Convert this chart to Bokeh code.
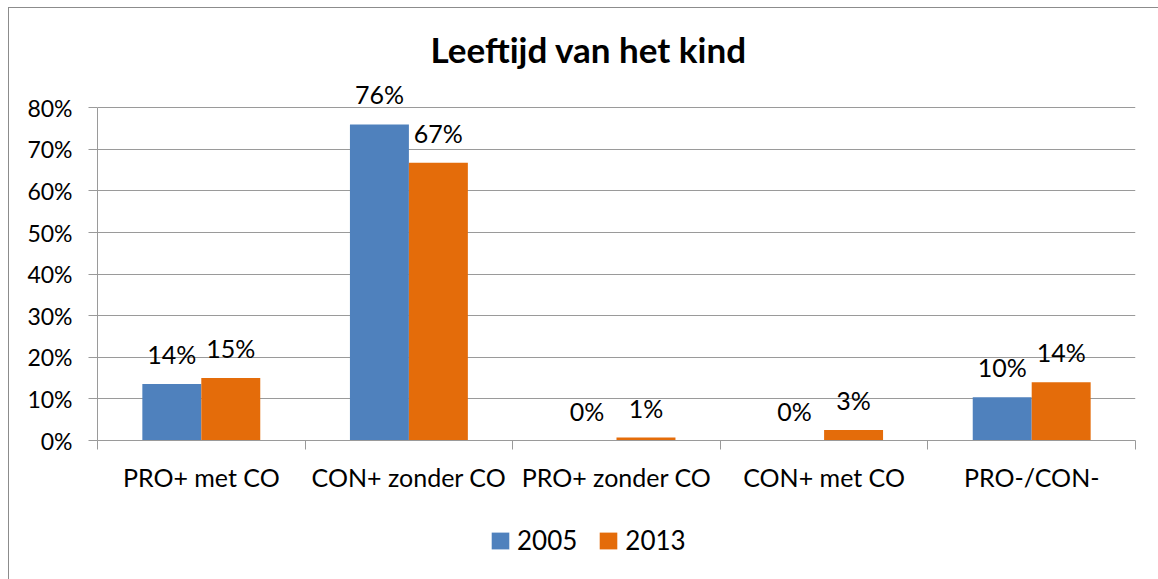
from bokeh.plotting import figure
from bokeh.layouts import column
from bokeh.models import (Range1d, LinearAxis, FixedTicker,
                          Legend, LegendItem, ColumnDataSource, LabelSet)
from bokeh.transform import dodge
from bokeh.core.properties import value
from bokeh.embed import file_html
from bokeh.resources import INLINE

chart_title = "Leeftijd van het kind"
categories = ["PRO+ met CO", "CON+ zonder CO", "PRO+ zonder CO", "CON+ met CO", "PRO-/CON-"]
series_names = ["2005", "2013"]
values_2005 = [13.6, 76.0, 0.0, 0.0, 10.4]
values_2013 = [15.0, 66.8, 0.7, 2.5, 14.0]
y_ticks = [0, 10, 20, 30, 40, 50, 60, 70, 80]
y_tick_labels = ["0%", "10%", "20%", "30%", "40%", "50%", "60%", "70%", "80%"]

colors = ["#4F81BD", "#E46C0A"]
FONT = "Lato"
GRID = "#9a9a9a"

n = len(categories)
centers = [i + 0.5 for i in range(n)]

p = figure(width=1149, height=500, x_range=Range1d(0, n),
           y_range=Range1d(0, 88), output_backend="svg", toolbar_location=None,
           x_axis_location=None, min_border_left=88, min_border_right=23,
           min_border_top=66, min_border_bottom=68)
p.outline_line_color = None
p.xgrid.grid_line_color = None
p.ygrid.grid_line_color = GRID
p.ygrid.ticker = FixedTicker(ticks=y_ticks)

# y axis
ya = p.yaxis[0]
ya.ticker = FixedTicker(ticks=y_ticks)
ya.bounds = (y_ticks[0], y_ticks[-1])
ya.major_label_overrides = {t: l for t, l in zip(y_ticks, y_tick_labels)}
ya.axis_line_color = GRID
ya.major_tick_line_color = GRID
ya.major_tick_in = 0
ya.major_tick_out = 9
ya.minor_tick_line_color = None
ya.major_label_text_font = FONT
ya.major_label_text_font_size = "23px"
ya.major_label_text_color = "black"
ya.major_label_standoff = 16

# boundary ticks axis
bax = LinearAxis(ticker=FixedTicker(ticks=list(range(n + 1))))
bax.axis_line_color = GRID
bax.major_tick_line_color = GRID
bax.major_tick_in = 0
bax.major_tick_out = 9
bax.minor_tick_line_color = None
bax.major_label_text_font_size = "0px"
bax.major_label_text_color = None
bax.major_label_standoff = 0
p.add_layout(bax, "below")

# category label axis
cax = LinearAxis(ticker=FixedTicker(ticks=centers))
cax.major_label_overrides = {c: name for c, name in zip(centers, categories)}
cax.axis_line_color = None
cax.major_tick_line_color = None
cax.minor_tick_line_color = None
cax.major_label_text_font = FONT
cax.major_label_text_font_size = "25px"
cax.major_label_text_color = "black"
cax.major_label_standoff = 6
p.add_layout(cax, "below")

src = ColumnDataSource(dict(
    xc=centers, v2005=values_2005, v2013=values_2013,
    l2005=[f"{int(v + 0.5)}%" for v in values_2005],
    l2013=[f"{int(v + 0.5)}%" for v in values_2013],
))

bw = 0.284
p.vbar(x=dodge("xc", -bw / 2), top="v2005", width=bw, source=src,
       fill_color=colors[0], line_color=None)
p.vbar(x=dodge("xc", bw / 2), top="v2013", width=bw, source=src,
       fill_color=colors[1], line_color=None)

for off, fld in [(-bw / 2, "2005"), (bw / 2, "2013")]:
    ls = LabelSet(x=dodge("xc", off), y="v" + fld, text="l" + fld, source=src,
                  y_offset=20, text_align="center", text_baseline="alphabetic",
                  text_font=value(FONT), text_font_size="25px", text_color="black")
    p.add_layout(ls)

p.title.text = chart_title
p.title.text_font = FONT
p.title.text_font_size = "35px"
p.title.text_font_style = "bold"
p.title.text_color = "black"
p.title.align = "left"
p.title.offset = 333
p.title.standoff = 9

# legend strip below the chart (zero-height proxy bars carry the swatch colours)
q = figure(width=1149, height=71, x_range=Range1d(0, 1), y_range=Range1d(0, 1),
           output_backend="svg", toolbar_location=None, x_axis_location=None,
           y_axis_location=None, min_border=0)
q.outline_line_color = None
q.xgrid.grid_line_color = None
q.ygrid.grid_line_color = None
proxy = ColumnDataSource(dict(x=[0.5], top=[0.0]))
lr1 = q.vbar(x="x", top="top", width=0.0, source=proxy, fill_color=colors[0], line_color=None)
lr2 = q.vbar(x="x", top="top", width=0.0, source=proxy, fill_color=colors[1], line_color=None)
legend = Legend(items=[LegendItem(label=series_names[0], renderers=[lr1]),
                       LegendItem(label=series_names[1], renderers=[lr2])],
                orientation="horizontal", location=(392, 23))
legend.label_text_font = FONT
legend.label_text_font_size = "26px"
legend.label_text_color = "black"
legend.glyph_width = 22
legend.glyph_height = 21
legend.label_standoff = 6
legend.spacing = 20
legend.padding = 0
legend.margin = 0
legend.border_line_color = None
legend.background_fill_alpha = 0
q.add_layout(legend, "center")

page = column(p, q, spacing=0)
page.styles = {"border-left": "1px solid #8c8c8c", "border-top": "1px solid #8c8c8c",
               "margin-left": "8px", "margin-top": "7px"}

open("out.html", "w").write(file_html(page, INLINE))
